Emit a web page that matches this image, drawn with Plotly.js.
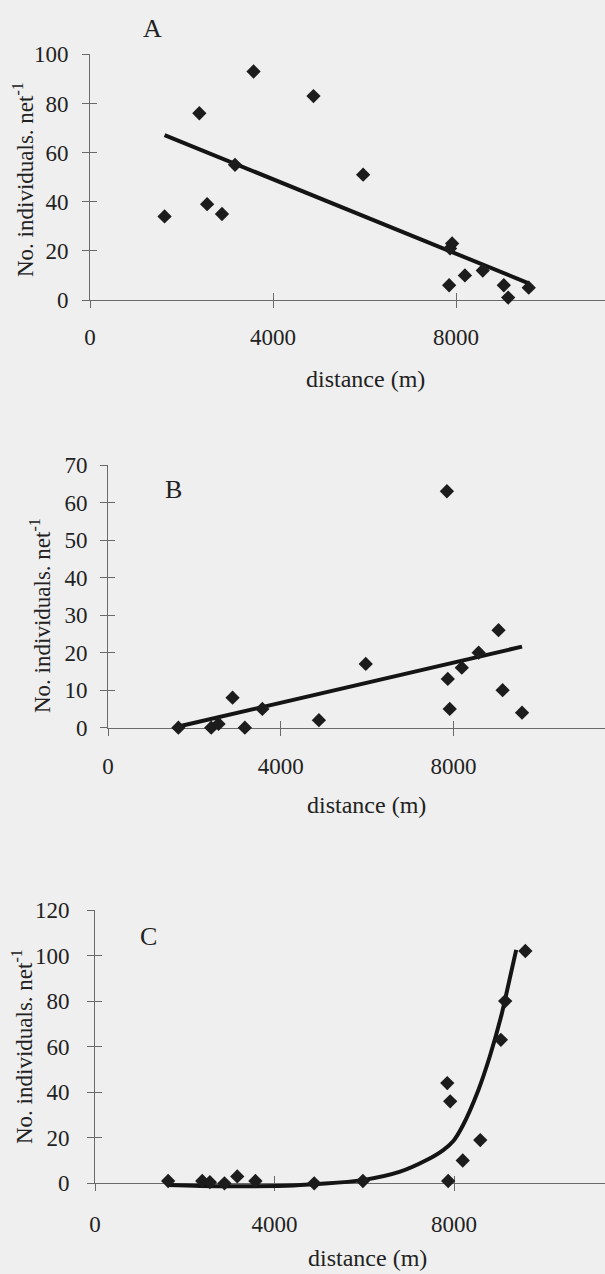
<!DOCTYPE html>
<html>
<head>
<meta charset="utf-8">
<script src="https://cdn.plot.ly/plotly-3.0.1.min.js"></script>
<style>html,body{margin:0;padding:0;background:#efefef;}#chart{width:605px;height:1274px;}</style>
</head>
<body>
<div id="chart"></div>
<script>
// ---- data ----
const distance = [1630, 2390, 2560, 2885, 3170, 3575, 4885, 5970, 7850, 7870, 7915, 8195, 8585, 9045, 9140, 9590];
const countA = [34, 76, 39, 35, 55, 93, 83, 51, 6, 21, 23, 10, 12, 6, 1, 5];
const countB = [0, 0, 1, 8, 0, 5, 2, 17, 63, 13, 5, 16, 20, 26, 10, 4];
const countC = [1, 1, 0.5, 0, 3, 1, 0, 1, 44, 1, 36, 10, 19, 63, 80, 102];

const trendA_x = [1630, 9590];
const trendA_y = [67.1, 6.8];
const trendB_x = [1630, 9590];
const trendB_y = [0.3, 21.6];
const trendC_x = [1605, 2350, 3470, 4420, 4880, 5965, 6800, 7390, 7760, 7985, 8200, 8544, 8802, 9059, 9232, 9386];
const trendC_y = [-0.8, -1.2, -1.3, -1.0, -0.4, 1.4, 5.1, 10.2, 14.6, 18.6, 25.5, 41, 56, 74, 89, 102.5];

const xTickVals = [0, 4000, 8000];
const xTickText = ['0', '4000', '8000'];
const yTicksA = [0, 20, 40, 60, 80, 100];
const yTicksB = [0, 10, 20, 30, 40, 50, 60, 70];
const yTicksC = [0, 20, 40, 60, 80, 100, 120];

const panelLabels = ['A', 'B', 'C'];
const xTitle = 'distance (m)';
const yTitle = 'No. individuals. net<sup>-1</sup>';

// ---- geometry (pixels) ----
const W = 605, H = 1274;
const px = p => p / W;
const py = p => 1 - p / H;
const axisColor = '#6a6a6a';
const textColor = '#222222';
const fontFam = 'Liberation Serif, serif';
const tickFont = {family: fontFam, size: 23, color: textColor};

// left axis px, zero-line px, top px, top value, px per 4000 m, label standoffs
const G = {
  A: {left: 90, zero: 300, top: 54.3, ymax: 100, xper4k: 183, xs: 9, ys: 9},
  B: {left: 108, zero: 727.7, top: 465, ymax: 70, xper4k: 172.7, xs: 11, ys: 8},
  C: {left: 95, zero: 1183.3, top: 910, ymax: 120, xper4k: 179.5, xs: 13, ys: 13}
};
function geom(g, ymin) {
  const ppu = (g.zero - g.top) / g.ymax;
  const bottom = g.zero - (ymin || 0) * ppu;
  return {
    xdom: [px(g.left), 1],
    xr: [0, (W - g.left) * 4000 / g.xper4k],
    ydom: [py(bottom), py(g.top)],
    yr: [ymin || 0, g.ymax],
    xs: g.xs, ys: g.ys
  };
}
const gA = geom(G.A), gB = geom(G.B), gC = geom(G.C);
const gCext = geom(G.C, -4);   // slightly taller hidden frame so the dip of curve C below 0 is not clipped

function xAx(g, anchor, inside, overlay) {
  const a = {
    domain: g.xdom, range: g.xr, anchor: anchor, tickmode: 'array', tickvals: xTickVals, ticktext: xTickText,
    ticks: inside ? 'inside' : 'outside', ticklen: 7, tickwidth: 1, tickcolor: axisColor,
    showline: !inside, linecolor: axisColor, linewidth: 1,
    showgrid: false, zeroline: false, showticklabels: !inside,
    tickfont: tickFont, ticklabelstandoff: g.xs, layer: 'below traces', fixedrange: true
  };
  if (overlay) a.overlaying = overlay;
  return a;
}
function yAx(g, anchor, ticks, inside, overlay) {
  const a = {
    domain: g.ydom, range: g.yr, anchor: anchor, tickmode: 'array', tickvals: ticks,
    ticks: inside ? 'inside' : 'outside', ticklen: 7, tickwidth: 1, tickcolor: axisColor,
    showline: !inside, linecolor: axisColor, linewidth: 1,
    showgrid: false, zeroline: false, showticklabels: !inside,
    tickfont: tickFont, ticklabelstandoff: g.ys, layer: 'below traces', fixedrange: true
  };
  if (overlay) a.overlaying = overlay;
  return a;
}
function hiddenAx(dom, range, anchor) {
  return {domain: dom, range: range, anchor: anchor, visible: false, fixedrange: true};
}

const markerStyle = {symbol: 'diamond', size: 11, color: '#1c1c1c', line: {width: 0}};
const lineStyle = {color: '#141414', width: 4};

const data = [
  {type: 'scatter', mode: 'lines', x: trendA_x, y: trendA_y, xaxis: 'x', yaxis: 'y', line: lineStyle, hoverinfo: 'skip'},
  {type: 'scatter', mode: 'markers', x: distance, y: countA, xaxis: 'x', yaxis: 'y', marker: markerStyle, cliponaxis: false},
  {type: 'scatter', mode: 'lines', x: trendB_x, y: trendB_y, xaxis: 'x2', yaxis: 'y2', line: lineStyle, hoverinfo: 'skip'},
  {type: 'scatter', mode: 'markers', x: distance, y: countB, xaxis: 'x2', yaxis: 'y2', marker: markerStyle, cliponaxis: false},
  {type: 'scatter', x: [], y: [], xaxis: 'x3', yaxis: 'y3', hoverinfo: 'skip'},
  {type: 'scatter', x: [], y: [], xaxis: 'x4', yaxis: 'y4', hoverinfo: 'skip'},
  {type: 'scatter', x: [], y: [], xaxis: 'x5', yaxis: 'y5', hoverinfo: 'skip'},
  {type: 'scatter', x: [], y: [], xaxis: 'x6', yaxis: 'y6', hoverinfo: 'skip'},
  {type: 'scatter', mode: 'lines', x: trendC_x, y: trendC_y, xaxis: 'x7', yaxis: 'y7', line: Object.assign({shape: 'spline', smoothing: 1}, lineStyle), hoverinfo: 'skip'},
  {type: 'scatter', mode: 'markers', x: distance, y: countC, xaxis: 'x7', yaxis: 'y7', marker: markerStyle, cliponaxis: false}
];

function ann(text, xp, yp, size, angle) {
  return {text: text, x: px(xp), y: py(yp), xref: 'paper', yref: 'paper', xanchor: 'center', yanchor: 'middle',
    showarrow: false, textangle: angle || 0, font: {family: fontFam, size: size, color: textColor}};
}

const layout = {
  width: W, height: H, margin: {l: 0, r: 0, t: 0, b: 0},
  paper_bgcolor: '#efefef', plot_bgcolor: 'rgba(0,0,0,0)', showlegend: false,
  xaxis: xAx(gA, 'y', false), yaxis: yAx(gA, 'x', yTicksA, false),
  xaxis2: xAx(gB, 'y2', false), yaxis2: yAx(gB, 'x2', yTicksB, false),
  xaxis3: xAx(gC, 'y3', false), yaxis3: yAx(gC, 'x3', yTicksC, false),
  xaxis4: xAx(gA, 'y', true, 'x'), yaxis4: yAx(gA, 'x', yTicksA, true, 'y'),
  xaxis5: xAx(gB, 'y2', true, 'x2'), yaxis5: yAx(gB, 'x2', yTicksB, true, 'y2'),
  xaxis6: xAx(gC, 'y3', true, 'x3'), yaxis6: yAx(gC, 'x3', yTicksC, true, 'y3'),
  xaxis7: hiddenAx(gCext.xdom, gCext.xr, 'y7'), yaxis7: hiddenAx(gCext.ydom, gCext.yr, 'x7'),
  annotations: [
    ann(panelLabels[0], 152, 28, 26), ann(panelLabels[1], 173, 490, 26), ann(panelLabels[2], 148, 936, 26),
    ann(xTitle, 365, 379, 24), ann(xTitle, 366, 805, 24), ann(xTitle, 368, 1258, 24),
    ann(yTitle, 23, 180, 23, -90), ann(yTitle, 40, 616, 23, -90), ann(yTitle, 22, 1047, 23, -90)
  ]
};

Plotly.newPlot('chart', data, layout, {displayModeBar: false, staticPlot: true});
</script>
</body>
</html>
